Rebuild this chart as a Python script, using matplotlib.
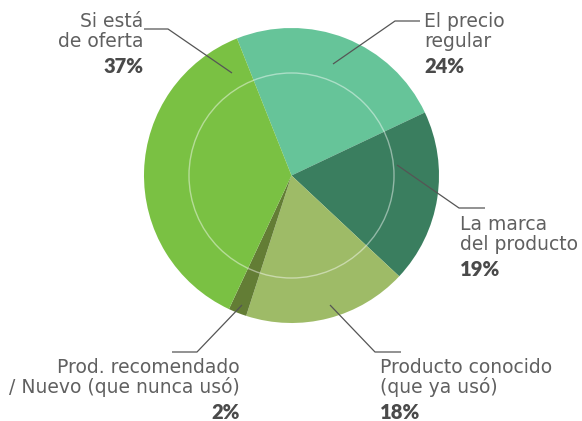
import matplotlib.pyplot as plt
from matplotlib.patches import Circle

labels = ["El precio\nregular", "La marca\ndel producto", "Producto conocido\n(que ya usó)",
          "Prod. recomendado\n/ Nuevo (que nunca usó)", "Si está\nde oferta"]
values = [24, 19, 18, 2, 37]
colors = ["#66c499", "#3a7e5f", "#9ebb67", "#637d35", "#7ac143"]

W, H = 582, 421
CX, CY, R = 291.5, 175.5, 147.5


def px(x, y):
    # pixel position -> data units (pie centre at 0,0, radius 1)
    return (x - CX) / R, (CY - y) / R


fig = plt.figure(figsize=(W / 100, H / 100), dpi=100)
ax = fig.add_axes([0, 0, 1, 1])

ax.pie(values, colors=colors, startangle=111.7, counterclock=False,
       radius=1, wedgeprops={"linewidth": 0})
ax.add_patch(Circle((0, 0), 0.695, fill=False, edgecolor="white",
                    linewidth=1.0, alpha=0.45))

# leader lines (pixel layout)
leaders = [
    [(333, 64), (395, 21), (420, 21)],
    [(397, 165), (459, 208), (485, 208)],
    [(330, 305), (375, 352), (401, 352)],
    [(242, 305), (197, 352), (172, 352)],
    [(232, 73), (168, 29), (144, 29)],
]
# text anchors: x, first baseline, alignment
anchors = [
    (424, 27, "left"),
    (460, 230, "left"),
    (380, 373, "left"),
    (240, 373, "right"),
    (143, 27, "right"),
]

for lab, val, pts, (tx, ty, ha) in zip(labels, values, leaders, anchors):
    xs, ys = zip(*[px(a, b) for a, b in pts])
    ax.plot(xs, ys, color="#555555", linewidth=0.9, solid_capstyle="butt")
    for i, line in enumerate(lab.split("\n")):
        ax.text(*px(tx, ty + 20 * i), line, ha=ha, va="baseline",
                fontsize=13.5, color="#606060", family="DejaVu Sans")
    ax.text(*px(tx, ty + 46), f"{val}%", ha=ha,
            va="baseline", fontsize=14.5, fontweight="heavy", color="#4a4a4a",
            family="Lato")

x0, y0 = px(0, H)
x1, y1 = px(W, 0)
ax.set_aspect("auto")
ax.set_xlim(x0, x1)
ax.set_ylim(y0, y1)
ax.axis("off")

fig.savefig("out.png", dpi=100)
